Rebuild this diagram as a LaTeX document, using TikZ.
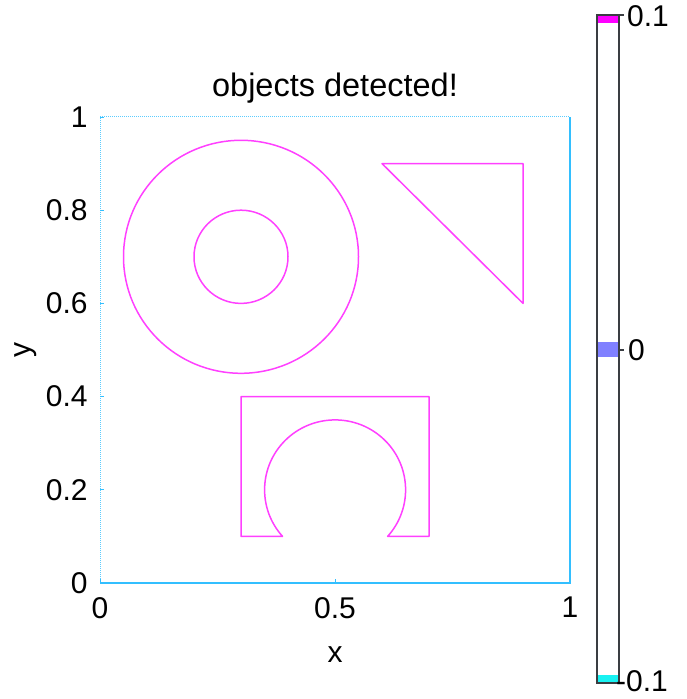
\documentclass[tikz,border=0pt]{standalone}
\usepackage{fontspec}
\setmainfont{Liberation Sans}
\usetikzlibrary{positioning,calc}

\definecolor{shapeline}{rgb}{1,0.25,1}
\definecolor{axisline}{rgb}{0.2,0.75,1}
\definecolor{bartop}{rgb}{1,0,1}
\definecolor{barmid}{rgb}{0.5,0.5,1}
\definecolor{barlow}{rgb}{0.1,0.95,0.95}

\begin{document}
\begin{tikzpicture}[
    x=1pt, y=1pt,
    shape line/.style={draw=shapeline, line width=1.5pt, line join=round},
    axis solid/.style={draw=axisline, line width=2pt},
    axis dotted/.style={draw=axisline!80, line width=1pt, densely dotted},
    tick label/.style={font=\fontsize{30}{36}\selectfont, inner sep=0pt},
    bar/.style={draw=black!85!cyan, line width=1.5pt}
]
    \useasboundingbox (0,0) rectangle (687,699);

    % Title and axis labels
    \node[tick label, font=\fontsize{32.5}{38}\selectfont] (title) at (335,611) {objects detected!};
    \node[tick label] (xlabel) at (335,44) {x};
    \node[tick label, rotate=90] (ylabel) at (26,349) {y};

    % Data area (unit square)
    \begin{scope}[shift={(100,116)}, x=470pt, y=466pt]
        \draw[axis dotted] (0,0) -- (0,1) -- (1,1);
        \draw[axis solid] (0,0) -- (1,0) -- (1,1);

        % Ticks
        \foreach \t [count=\i] in {0,0.2,0.4,0.6,0.8,1} {
            \draw[axisline, line width=0.8pt] (0,\t) -- ++(4pt,0);
            \node[tick label, anchor=east] (ytick\i) at (-0.026,\t) {\t};
        }
        \foreach \t [count=\i] in {0,0.5,1} {
            \draw[axisline, line width=0.8pt] (\t,0) -- ++(0,4pt);
            \node[tick label, anchor=north] (xtick\i) at (\t,-0.03) {\t};
        }

        % Ring
        \draw[shape line] (0.3,0.7) circle [radius=0.25];
        \draw[shape line] (0.3,0.7) circle [radius=0.1];

        % Triangle
        \draw[shape line] (0.6,0.9) -- (0.9,0.9) -- (0.9,0.6) -- cycle;

        % Block with arch
        \draw[shape line] (0.388,0.1) -- (0.3,0.1) -- (0.3,0.4) -- (0.7,0.4)
            -- (0.7,0.1) -- (0.612,0.1)
            arc[start angle=-41.8, end angle=221.8, radius=0.15] -- cycle;
    \end{scope}

    % Colorbar
    \fill[bartop] (597,676) rectangle (619,684);
    \fill[barmid] (597,342) rectangle (619,357);
    \fill[barlow] (597,16) rectangle (619,24);
    \draw[bar] (597,16) rectangle (619,684);
    \foreach \yy in {16,349,684}
        \draw[bar] (619,\yy) -- (624,\yy);
    \node[tick label, anchor=west] (cbtop) at (627,683) {0.1};
    \node[tick label, anchor=west] (cbmid) at (628,349) {0};
    \node[tick label, anchor=east] (cbbot) at (668,18) {-0.1};
\end{tikzpicture}
\end{document}
